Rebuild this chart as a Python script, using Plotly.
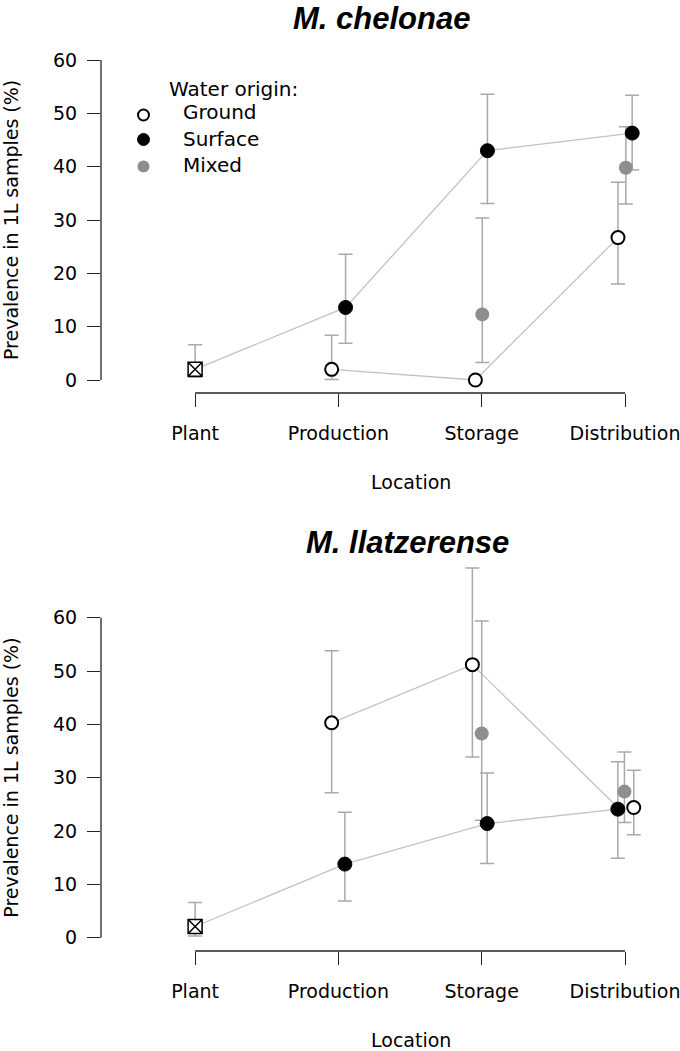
import plotly.graph_objects as go

# categories and ticks
locations = ["Plant", "Production", "Storage", "Distribution"]
y_ticks = [0, 10, 20, 30, 40, 50, 60]
origins = ["Ground", "Surface", "Mixed"]

# M. chelonae (prevalence %, with lower / upper interval)
chel_plant = [2.0, None, None, None]
chel_plant_lo = [0.5, None, None, None]
chel_plant_hi = [6.6, None, None, None]
chel_ground = [None, 2.0, 0.0, 26.7]
chel_ground_lo = [None, 0.1, 0.0, 18.0]
chel_ground_hi = [None, 8.4, 0.0, 37.1]
chel_surface = [None, 13.6, 43.0, 46.3]
chel_surface_lo = [None, 6.9, 33.1, 39.4]
chel_surface_hi = [None, 23.6, 53.6, 53.4]
chel_mixed = [None, None, 12.3, 39.8]
chel_mixed_lo = [None, None, 3.3, 33.0]
chel_mixed_hi = [None, None, 30.4, 47.5]

# M. llatzerense
llat_plant = [2.1, None, None, None]
llat_plant_lo = [0.3, None, None, None]
llat_plant_hi = [6.6, None, None, None]
llat_ground = [None, 40.3, 51.2, 24.4]
llat_ground_lo = [None, 27.2, 33.9, 19.3]
llat_ground_hi = [None, 53.8, 69.3, 31.4]
llat_surface = [None, 13.8, 21.4, 24.1]
llat_surface_lo = [None, 6.9, 13.9, 14.9]
llat_surface_hi = [None, 23.5, 30.9, 33.0]
llat_mixed = [None, None, 38.3, 27.4]
llat_mixed_lo = [None, None, 22.0, 21.6]
llat_mixed_hi = [None, None, 59.4, 34.8]

# ---- layout / style -------------------------------------------------------
W, H = 680, 1051
FONT = "DejaVu Sans"
BAR_COL = "#a9a9a9"
LINE_COL = "#c2c2c2"
MIX_COL = "#8e8e8e"

X_LEFT_PX, X_RIGHT_PX = 101, 680
X0_PX, X_STEP = 195.1, 143.3
PPU = 5.333  # pixels per % point

# per panel: pixel of y=0, pixel top/bottom of plot area
panels = [
    dict(title="M. chelonae", title_x=381, title_y=19, zero=380.0, top=40, bottom=393,
         plant=(chel_plant, chel_plant_lo, chel_plant_hi),
         series={"Ground": (chel_ground, chel_ground_lo, chel_ground_hi),
                 "Surface": (chel_surface, chel_surface_lo, chel_surface_hi),
                 "Mixed": (chel_mixed, chel_mixed_lo, chel_mixed_hi)},
         dodge={"Ground": [0, -0.047, -0.044, -0.049],
                "Surface": [0, 0.05, 0.04, 0.05],
                "Mixed": [0, 0, 0.004, 0.006]},
         line_dodge={"Ground": [0, -0.047, -0.044, -0.049],
                     "Surface": [0, 0.05, 0.04, 0.05]},
         legend=True),
    dict(title="M. llatzerense", title_x=407, title_y=542, zero=937.7, top=560, bottom=951,
         plant=(llat_plant, llat_plant_lo, llat_plant_hi),
         series={"Ground": (llat_ground, llat_ground_lo, llat_ground_hi),
                 "Surface": (llat_surface, llat_surface_lo, llat_surface_hi),
                 "Mixed": (llat_mixed, llat_mixed_lo, llat_mixed_hi)},
         dodge={"Ground": [0, -0.047, -0.065, 0.061],
                "Surface": [0, 0.045, 0.038, -0.05],
                "Mixed": [0, 0, 0, -0.004]},
         line_dodge={"Ground": [0, -0.047, -0.065, -0.05],
                     "Surface": [0, 0.045, 0.038, -0.05]},
         legend=False),
]

marker_style = {
    "Ground": dict(symbol="circle", size=13, color="white", line=dict(color="black", width=2)),
    "Surface": dict(symbol="circle", size=14, color="black", line=dict(color="black", width=1)),
    "Mixed": dict(symbol="circle", size=14, color=MIX_COL, line=dict(width=0)),
}
plant_style = dict(symbol="square-x", size=14, color="white", line=dict(color="black", width=1.5))

fig = go.Figure()
annotations = []
shapes = []


def ypix(p):
    return 1 - p / H


for k, pn in enumerate(panels):
    xa = "x" if k == 0 else "x2"
    ya = "y" if k == 0 else "y2"
    plant_v, plant_lo, plant_hi = pn["plant"]

    # connecting lines (surface line starts at plant)
    for name in ["Surface", "Ground"]:
        v = pn["series"][name][0]
        xs, ys = [], []
        if name == "Surface":
            xs.append(0)
            ys.append(plant_v[0])
        for i, val in enumerate(v):
            if val is not None:
                xs.append(i + pn["line_dodge"][name][i])
                ys.append(val)
        fig.add_trace(go.Scatter(x=xs, y=ys, mode="lines", xaxis=xa, yaxis=ya,
                                 line=dict(color=LINE_COL, width=1.3),
                                 showlegend=False, hoverinfo="skip"))

    # error bars (drawn under all markers)
    groups = [("Plant", plant_v, plant_lo, plant_hi, [0, 0, 0, 0])]
    for name in ["Mixed", "Surface", "Ground"]:
        v, lo, hi = pn["series"][name]
        groups.append((name, v, lo, hi, pn["dodge"][name]))
    for name, v, lo, hi, dg in groups:
        idx = [i for i, val in enumerate(v) if val is not None]
        fig.add_trace(go.Scatter(
            x=[i + dg[i] for i in idx], y=[v[i] for i in idx], mode="markers",
            xaxis=xa, yaxis=ya, marker=dict(size=1, color="rgba(0,0,0,0)"),
            error_y=dict(type="data", symmetric=False,
                         array=[hi[i] - v[i] for i in idx],
                         arrayminus=[v[i] - lo[i] for i in idx],
                         color=BAR_COL, thickness=1.5, width=7),
            showlegend=False, hoverinfo="skip"))

    # markers
    for name, v, lo, hi, dg in groups:
        idx = [i for i, val in enumerate(v) if val is not None]
        st = plant_style if name == "Plant" else marker_style[name]
        fig.add_trace(go.Scatter(
            x=[i + dg[i] for i in idx], y=[v[i] for i in idx], mode="markers",
            xaxis=xa, yaxis=ya, marker=st, name=name, showlegend=False))

    # axis lines, R style (detached)
    shapes.append(dict(type="line", xref=f"{xa} domain", yref=ya, x0=0, x1=0, y0=0, y1=60,
                       line=dict(color="#222", width=1.3)))
    shapes.append(dict(type="line", xref=xa, yref=f"{ya} domain", x0=0, x1=3, y0=0, y1=0,
                       line=dict(color="#222", width=1.3)))

    # titles
    annotations.append(dict(text=pn["title"], xref="paper", yref="paper",
                            x=pn["title_x"] / W, y=ypix(pn["title_y"]),
                            xanchor="center", yanchor="middle", showarrow=False,
                            font=dict(family="Liberation Sans", size=31, color="black",
                                      weight="bold", style="italic")))
    annotations.append(dict(text="Prevalence in 1L samples (%)", xref="paper", yref="paper",
                            x=11 / W, y=ypix(pn["zero"] - 30 * PPU), textangle=-90,
                            xanchor="center", yanchor="middle", showarrow=False,
                            font=dict(family=FONT, size=19, color="black")))
    annotations.append(dict(text="Location", xref="paper", yref="paper",
                            x=410.5 / W, y=ypix(pn["bottom"] + 89), xanchor="center",
                            yanchor="middle", showarrow=False,
                            font=dict(family=FONT, size=19, color="black")))

    ax_common = dict(domain=[X_LEFT_PX / W, X_RIGHT_PX / W],
                     range=[(X_LEFT_PX - X0_PX) / X_STEP, (X_RIGHT_PX - X0_PX) / X_STEP],
                     tickmode="array", tickvals=list(range(len(locations))), ticktext=locations,
                     ticks="outside", ticklen=13, tickwidth=1.3, tickcolor="#222",
                     ticklabelstandoff=10, ticklabeloverflow="allow",
                     showgrid=False, zeroline=False, showline=False,
                     tickfont=dict(family=FONT, size=19, color="black"),
                     anchor=ya, fixedrange=True)
    ay_common = dict(domain=[ypix(pn["bottom"]), ypix(pn["top"])],
                     range=[(pn["zero"] - pn["bottom"]) / PPU, (pn["zero"] - pn["top"]) / PPU],
                     tickmode="array", tickvals=y_ticks, ticks="outside", ticklen=13,
                     tickwidth=1.3, tickcolor="#222", ticklabelstandoff=6,
                     showgrid=False, zeroline=False, showline=False,
                     tickfont=dict(family=FONT, size=19, color="black"),
                     anchor=xa, fixedrange=True)
    if k == 0:
        fig.update_layout(xaxis=ax_common, yaxis=ay_common)
    else:
        fig.update_layout(xaxis2=ax_common, yaxis2=ay_common)

    # legend (top panel only)
    if pn["legend"]:
        leg_x = (143.5 - X0_PX) / X_STEP
        leg_rows = [115, 139.5, 166.5]
        for name, row in zip(origins, leg_rows):
            st = dict(marker_style[name])
            st["size"] = st["size"] - 2
            fig.add_trace(go.Scatter(x=[leg_x], y=[(pn["zero"] - row) / PPU], mode="markers",
                                     xaxis=xa, yaxis=ya, marker=st,
                                     showlegend=False, hoverinfo="skip"))
        annotations.append(dict(text="Water origin:", xref="paper", yref="paper",
                                x=167 / W, y=ypix(89), xanchor="left", yanchor="middle",
                                showarrow=False, font=dict(family=FONT, size=20, color="black")))
        for name, row in zip(origins, [112, 138.5, 164.5]):
            annotations.append(dict(text=name, xref="paper", yref="paper",
                                    x=181 / W, y=ypix(row), xanchor="left", yanchor="middle",
                                    showarrow=False,
                                    font=dict(family=FONT, size=20, color="black")))

fig.update_layout(width=W, height=H, margin=dict(l=0, r=0, t=0, b=0),
                  paper_bgcolor="white", plot_bgcolor="white",
                  annotations=annotations, shapes=shapes, showlegend=False)
# drop the page's default body margin so the figure sits at the window origin
fig.write_html("out.html", config={"displayModeBar": False},
               post_script="document.body.style.margin='0';")
